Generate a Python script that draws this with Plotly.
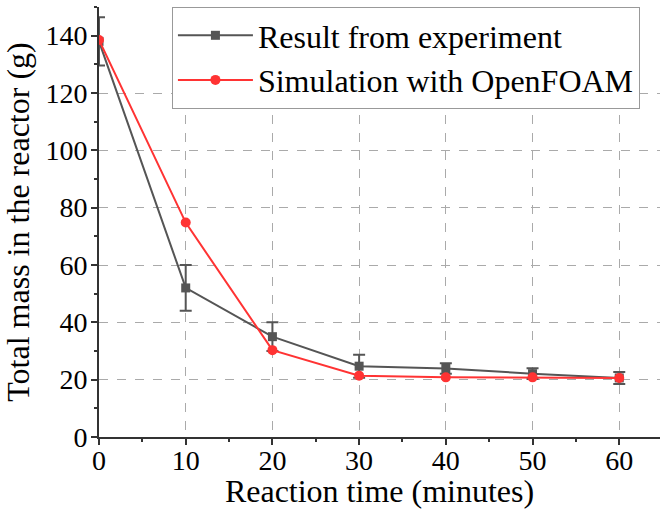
import plotly.graph_objects as go

time_min = [0, 10, 20, 30, 40, 50, 60]
exp_mass = [138.0, 52.0, 35.0, 24.7, 23.9, 22.1, 20.6]
exp_err = [8.4, 8.0, 5.0, 4.0, 1.8, 1.9, 2.1]
sim_mass = [138.5, 74.8, 30.3, 21.4, 20.8, 20.8, 20.6]
y_ticks = [0, 20, 40, 60, 80, 100, 120, 140]
grid_y = [20, 40, 60, 80, 100, 120]
x_ticks = [0, 10, 20, 30, 40, 50, 60]

FONT = "Liberation Serif"
AX = "#333333"

fig = go.Figure()
fig.add_trace(go.Scatter(
    x=time_min, y=exp_mass, mode="lines+markers",
    name="Result from experiment",
    line=dict(color="#555555", width=2),
    marker=dict(symbol="square", size=9, color="#555555"),
    error_y=dict(type="data", array=exp_err, visible=True,
                 color="#555555", thickness=2, width=6),
))
fig.add_trace(go.Scatter(
    x=time_min, y=sim_mass, mode="lines+markers",
    name="Simulation with OpenFOAM",
    line=dict(color="#ff3333", width=2),
    marker=dict(symbol="circle", size=10, color="#ff3333"),
))
# invisible helper trace on the labelled overlay axis
fig.add_trace(go.Scatter(x=time_min, y=exp_mass, yaxis="y2", mode="markers",
                         marker=dict(opacity=0), showlegend=False,
                         hoverinfo="skip"))

fig.update_layout(
    width=660, height=509,
    margin=dict(l=99, r=0, t=7, b=72),
    paper_bgcolor="white", plot_bgcolor="white",
    font=dict(family=FONT, size=28, color="black"),
    showlegend=True,
    legend=dict(x=0.13, y=1.0, xanchor="left", yanchor="top",
                bgcolor="white", bordercolor="#999999", borderwidth=1,
                font=dict(family=FONT, size=32), tracegroupgap=0,
                itemwidth=75),
    xaxis=dict(
        range=[0, 64.7], tickvals=x_ticks, showgrid=True,
        gridcolor="#aaaaaa", griddash="dash", gridwidth=1,
        showline=True, linecolor=AX, linewidth=2, zeroline=False,
        ticks="outside", ticklen=6, tickwidth=2, tickcolor=AX,
        ticklabelstandoff=-9,
        minor=dict(dtick=5, ticks="outside", ticklen=3, tickwidth=2,
                   tickcolor=AX, showgrid=False),
        tickfont=dict(family=FONT, size=28),
        title=dict(text="Reaction time (minutes)", standoff=12,
                   font=dict(family=FONT, size=32)),
    ),
    yaxis=dict(
        range=[0, 150], tickvals=grid_y, showticklabels=False,
        showgrid=True, gridcolor="#aaaaaa", griddash="dash", gridwidth=1,
        zeroline=False, showline=False, ticks="",
    ),
    yaxis2=dict(
        range=[0, 150], overlaying="y", side="left", anchor="x",
        tickvals=y_ticks, showgrid=False, zeroline=False,
        showline=True, linecolor=AX, linewidth=2,
        ticks="outside", ticklen=6, tickwidth=2, tickcolor=AX,
        ticklabelstandoff=-2,
        minor=dict(dtick=10, ticks="outside", ticklen=3, tickwidth=2,
                   tickcolor=AX, showgrid=False),
        tickfont=dict(family=FONT, size=28),
        title=dict(text="Total mass in the reactor (g)", standoff=8,
                   font=dict(family=FONT, size=32)),
    ),
)

fig.write_html("out.html")
